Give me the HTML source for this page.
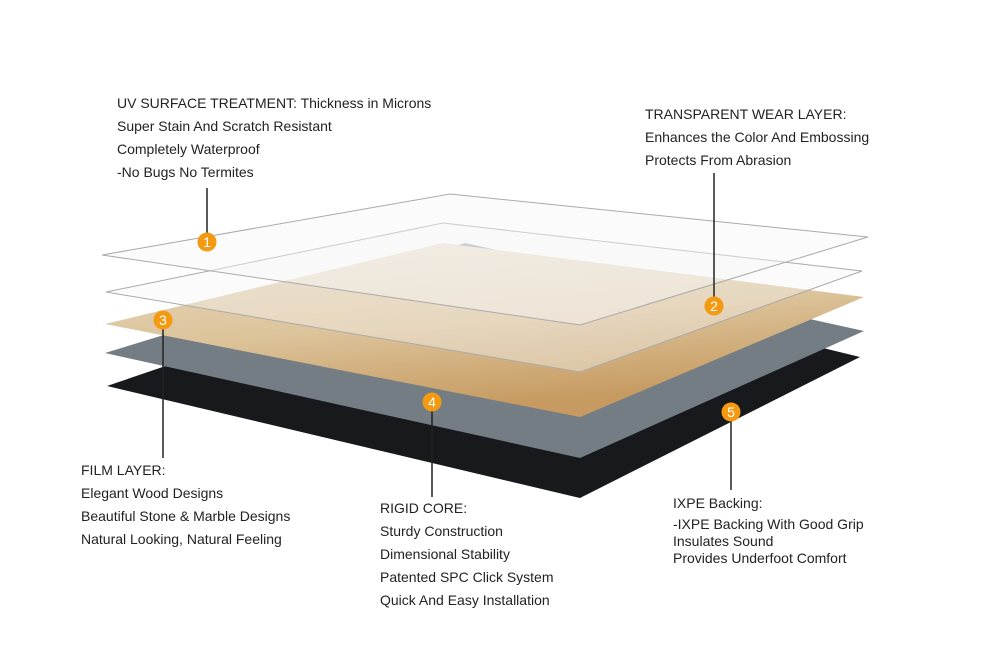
<!DOCTYPE html>
<html><head><style>
body{margin:0;background:#fff;}
#w{position:relative;width:1000px;height:655px;overflow:hidden;font-family:"Liberation Sans",Arial,sans-serif;font-size:14px;color:#222;}
.t{position:absolute;line-height:23px;white-space:nowrap;}
</style></head><body><div id="w">
<svg width="1000" height="655" style="position:absolute;left:0;top:0">
<defs>
<linearGradient id="wood" x1="0" y1="0" x2="0.35" y2="1">
<stop offset="0" stop-color="#e9dbc3"/><stop offset="0.55" stop-color="#dcc39a"/><stop offset="1" stop-color="#c69a60"/>
</linearGradient>
</defs>
<polygon points="107,386 470,262 860,357 580,498" fill="#17191d"/>
<polygon points="105,353 465,243 864,331 580,458" fill="#737d83"/>
<polygon points="105,324 443,243 864,297 580,417" fill="url(#wood)"/>
<polygon points="106,292 443,223 862,271 580,372" fill="#f4f4f4" fill-opacity="0.4" stroke="#aaa" stroke-width="1"/>
<polygon points="102,255 450,194 868,237 580,325" fill="#f6f6f6" fill-opacity="0.45" stroke="#aaa" stroke-width="1"/>
<g stroke="#222" stroke-width="1.5">
<line x1="207" y1="188" x2="207" y2="234"/>
<line x1="714" y1="173" x2="714" y2="298"/>
<line x1="163" y1="329" x2="163" y2="458"/>
<line x1="432" y1="411" x2="432" y2="497"/>
<line x1="731" y1="421" x2="731" y2="490"/>
</g>
<g fill="#f39a10">
<circle cx="207" cy="242" r="9.5"/><circle cx="714" cy="306" r="9.5"/><circle cx="163" cy="320" r="9.5"/><circle cx="432" cy="402" r="9.5"/><circle cx="731" cy="412" r="9.5"/>
</g>
<g fill="#fff" font-family="Liberation Sans,Arial,sans-serif" font-size="14" text-anchor="middle">
<text x="207" y="247">1</text><text x="714" y="311">2</text><text x="163" y="325">3</text><text x="432" y="407">4</text><text x="731" y="417">5</text>
</g>
</svg>
<div class="t" style="left:117px;top:92px">UV SURFACE TREATMENT: Thickness in Microns<br>Super Stain And Scratch Resistant<br>Completely Waterproof<br>-No Bugs No Termites</div>
<div class="t" style="left:645px;top:103px">TRANSPARENT WEAR LAYER:<br>Enhances the Color And Embossing<br>Protects From Abrasion</div>
<div class="t" style="left:81px;top:459px">FILM LAYER:<br>Elegant Wood Designs<br>Beautiful Stone &amp; Marble Designs<br>Natural Looking, Natural Feeling</div>
<div class="t" style="left:380px;top:497px">RIGID CORE:<br>Sturdy Construction<br>Dimensional Stability<br>Patented SPC Click System<br>Quick And Easy Installation</div>
<div class="t" style="left:673px;top:492px;">IXPE Backing:</div>
<div class="t" style="left:673px;top:516px;line-height:17px">-IXPE Backing With Good Grip<br>Insulates Sound<br>Provides Underfoot Comfort</div>
</div></body></html>
